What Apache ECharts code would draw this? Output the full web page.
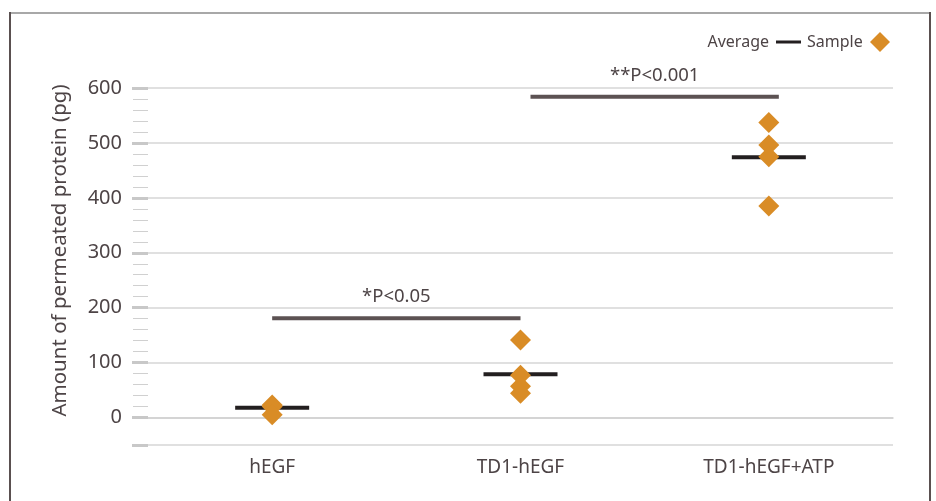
<!DOCTYPE html>
<html>
<head>
<meta charset="utf-8">
<script src="https://cdn.jsdelivr.net/npm/echarts@6/dist/echarts.min.js"></script>
<style>
html,body{margin:0;padding:0;background:#fff;}
#c{width:936px;height:501px;}
</style>
</head>
<body>
<div id="c"></div>
<script>
const categories = ['hEGF', 'TD1-hEGF', 'TD1-hEGF+ATP'];
const samplesHEGF = [23, 20, 5];
const samplesTD1 = [141, 77, 57, 44];
const samplesTD1ATP = [537, 496, 475, 385];
const averages = [18, 79, 474];
const sigFrom = [0, 1];
const sigTo = [1, 2];
const sigValue = [181, 584];
const sigText = ['*P<0.05', '**P<0.001'];
const majorTicks = [-50, 0, 100, 200, 300, 400, 500, 600];
const tickLabels = [0, 100, 200, 300, 400, 500, 600];
const minorTicks = [20, 40, 60, 80, 120, 140, 160, 180, 220, 240, 260, 280, 320, 340, 360, 380, 420, 440, 460, 480, 520, 540, 560, 580];

const TEXT = '#4d4446';
const FONT = 'Noto Sans';
const ORANGE = '#d98c26';

const sampleData = [];
[samplesHEGF, samplesTD1, samplesTD1ATP].forEach((arr, i) => arr.forEach(v => sampleData.push([i, v])));
const avgData = averages.map((v, i) => [i, v]);
const sigData = sigValue.map((v, i) => [sigFrom[i], v, sigTo[i]]);
const sigShift = [0, 10];

const chart = echarts.init(document.getElementById('c'));
chart.setOption({
  animation: false,
  backgroundColor: '#fff',
  grid: {left: 148, right: 43, top: 88, bottom: 56},
  xAxis: {
    type: 'category',
    data: categories,
    boundaryGap: true,
    axisLine: {lineStyle: {color: '#cfcfcf', width: 1.5}},
    axisTick: {alignWithLabel: true, length: 16, lineStyle: {color: '#cfcfcf', width: 1.5}},
    axisLabel: {color: TEXT, fontFamily: FONT, fontSize: 19, margin: 13}
  },
  yAxis: [{
    type: 'value',
    min: -50, max: 600,
    name: 'Amount of permeated protein (pg)',
    nameLocation: 'middle',
    nameGap: 77,
    nameTextStyle: {color: TEXT, fontFamily: FONT, fontSize: 20.5, padding: [0, 0, 0, 32]},
    axisLine: {show: false},
    axisTick: {show: true, customValues: majorTicks, length: 16, lineStyle: {color: '#c8c8c8', width: 3}},
    axisLabel: {customValues: tickLabels, color: TEXT, fontFamily: FONT, fontSize: 20, margin: 26},
    splitLine: {show: true, lineStyle: {color: '#d6d6d6', width: 1.5}}
  }, {
    type: 'value',
    min: -50, max: 600,
    position: 'left',
    axisLine: {show: false},
    axisTick: {show: true, customValues: minorTicks, length: 15, lineStyle: {color: '#d0d0d0', width: 1}},
    axisLabel: {show: false},
    splitLine: {show: false}
  }],
  series: [{
    type: 'custom',
    name: 'Significance',
    data: sigData,
    z: 3,
    renderItem: function (params, api) {
      const a = api.coord([api.value(0), api.value(1)]);
      const b = api.coord([api.value(2), api.value(1)]);
      const s = sigShift[params.dataIndex];
      return {
        type: 'group',
        children: [{
          type: 'line',
          shape: {x1: a[0] + s, y1: a[1], x2: b[0] + s, y2: b[1]},
          style: {stroke: '#5c5253', lineWidth: 4}
        }, {
          type: 'text',
          x: (a[0] + b[0]) / 2 + s, y: a[1] - 21,
          style: {text: sigText[params.dataIndex], fill: TEXT, font: '18.5px "' + FONT + '"', align: 'center', verticalAlign: 'middle'}
        }]
      };
    }
  }, {
    type: 'custom',
    name: 'Average',
    data: avgData,
    z: 4,
    renderItem: function (params, api) {
      const p = api.coord([api.value(0), api.value(1)]);
      return {
        type: 'line',
        shape: {x1: p[0] - 37, y1: p[1], x2: p[0] + 37, y2: p[1]},
        style: {stroke: '#231f20', lineWidth: 4}
      };
    }
  }, {
    type: 'scatter',
    name: 'Sample',
    data: sampleData,
    symbol: 'diamond',
    symbolSize: 21,
    z: 5,
    itemStyle: {color: ORANGE, opacity: 1}
  }],
  graphic: [
    {type: 'line', shape: {x1: 10, y1: 13, x2: 930, y2: 13}, style: {stroke: '#a8a8a8', lineWidth: 2}},
    {type: 'line', shape: {x1: 10, y1: 12, x2: 10, y2: 501}, style: {stroke: '#5a5050', lineWidth: 2}},
    {type: 'line', shape: {x1: 930, y1: 12, x2: 930, y2: 501}, style: {stroke: '#5a5050', lineWidth: 2}},
    {type: 'text', x: 769, y: 42, style: {text: 'Average', fill: TEXT, font: '16px "' + FONT + '"', align: 'right', verticalAlign: 'middle'}},
    {type: 'line', shape: {x1: 776, y1: 42, x2: 801, y2: 42}, style: {stroke: '#231f20', lineWidth: 3}},
    {type: 'text', x: 807, y: 42, style: {text: 'Sample', fill: TEXT, font: '16px "' + FONT + '"', align: 'left', verticalAlign: 'middle'}},
    {type: 'polygon', shape: {points: [[880, 32], [890, 42], [880, 52], [870, 42]]}, style: {fill: ORANGE}}
  ]
});
</script>
</body>
</html>
